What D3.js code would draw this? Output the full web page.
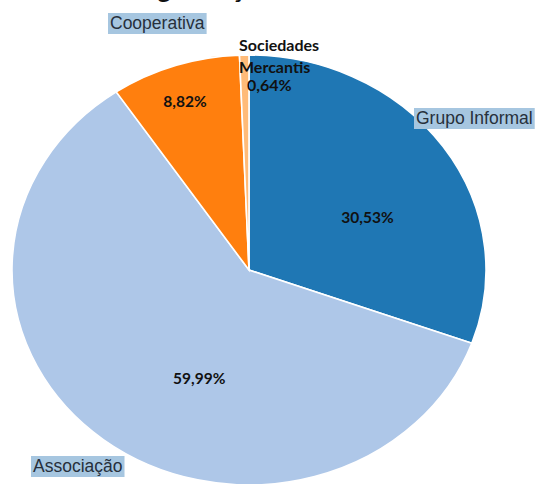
<!DOCTYPE html>
<html>
<head>
<meta charset="utf-8">
<script src="https://cdn.jsdelivr.net/npm/d3@7"></script>
<style>
  html, body { margin: 0; padding: 0; background: #fff; overflow: hidden; }
  svg { display: block; }
</style>
</head>
<body>
<svg id="chart" width="537" height="484"></svg>
<script>
// Share of each kind of organisation (percent)
const categories = ["Grupo Informal", "Associação", "Cooperativa", "Sociedades Mercantis"];
const shares = [30.53, 59.99, 8.82, 0.64];
const valueLabels = ["30,53%", "59,99%", "8,82%", "0,64%"];
const colors = ["#1f77b4", "#aec7e8", "#ff7f0e", "#ffbb78"];

const W = 537, H = 484;
const cx = 249, cy = 270, rx = 237, ry = 215;

const svg = d3.select("#chart");

// Title sits above the visible area; only its descenders peek in
svg.append("text")
  .attr("x", 127).attr("y", -2.5)
  .attr("font-family", "Lato, sans-serif")
  .attr("font-weight", "bold")
  .attr("font-size", 26)
  .attr("fill", "#111")
  .text("Organização");

const pie = d3.pie().sort(null).value(d => d);
const arcs = pie(shares);
const arc = d3.arc().innerRadius(0).outerRadius(ry);

// Slightly oval pie: scale the x direction
const g = svg.append("g")
  .attr("transform", `translate(${cx},${cy}) scale(${rx / ry},1)`);

g.selectAll("path")
  .data(arcs)
  .join("path")
  .attr("d", arc)
  .attr("fill", (d, i) => colors[i])
  .attr("stroke", "#fff")
  .attr("stroke-width", 1.6)
  .attr("vector-effect", "non-scaling-stroke");

// Where each value label sits, as a fraction of the radii from the centre
const labelAt = [[0.50, -0.245], [-0.21, 0.50], [-0.27, -0.785], [0.17, -0.87]];

const pt = (i) => [cx + labelAt[i][0] * rx, cy + labelAt[i][1] * ry];

const valueFont = "Lato, 'Open Sans', sans-serif";
[0, 1, 2].forEach(i => {
  const [x, y] = pt(i);
  svg.append("text")
    .attr("x", x).attr("y", y)
    .attr("text-anchor", "middle")
    .attr("dominant-baseline", "central")
    .attr("font-family", valueFont)
    .attr("font-weight", "bold")
    .attr("font-size", 15.5)
    .attr("fill", "#111")
    .text(valueLabels[i]);
});

// Small slice: name on two lines plus its value
{
  const [x, y] = pt(3);
  const t = svg.append("text")
    .attr("font-family", valueFont)
    .attr("font-weight", "bold")
    .attr("font-size", 16)
    .attr("fill", "#111");
  const words = categories[3].split(" ");
  t.append("tspan").attr("x", 239).attr("y", y - 32).text(words[0]);
  t.append("tspan").attr("x", 239).attr("y", y - 10).text(words[1]);
  t.append("tspan").attr("x", 247).attr("y", y + 8).text(valueLabels[3]);
}

// Boxed category names
const boxed = [
  { i: 2, x: 110, y: 23 },
  { i: 0, x: 416, y: 118 },
  { i: 1, x: 33, y: 466 }
];
boxed.forEach(b => {
  const grp = svg.append("g");
  const t = grp.append("text")
    .attr("x", b.x).attr("y", b.y)
    .attr("dominant-baseline", "central")
    .attr("font-family", "'Liberation Sans', Arial, sans-serif")
    .attr("font-size", 17.5)
    .attr("fill", "#27303b")
    .text(categories[b.i]);
  const bb = t.node().getBBox();
  grp.insert("rect", "text")
    .attr("x", bb.x - 2).attr("y", bb.y)
    .attr("width", bb.width + 4).attr("height", bb.height + 1)
    .attr("fill", "#a6c6e0");
});
</script>
</body>
</html>
